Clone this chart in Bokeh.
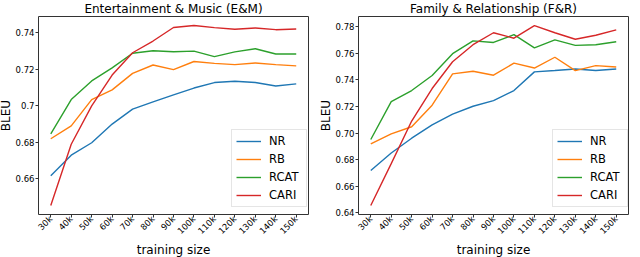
import math
from bokeh.plotting import figure
from bokeh.layouts import row
from bokeh.models import FixedTicker, CustomJSTickFormatter, PrintfTickFormatter, Legend, LegendItem
from bokeh.embed import file_html
from bokeh.resources import INLINE

sizes = [30, 40, 50, 60, 70, 80, 90, 100, 110, 120, 130, 140, 150]
size_labels = ["30k", "40k", "50k", "60k", "70k", "80k", "90k", "100k", "110k", "120k", "130k", "140k", "150k"]

em_nr = [0.6618, 0.6730, 0.6798, 0.6900, 0.6982, 0.7021, 0.7060, 0.7097, 0.7127, 0.7134, 0.7127, 0.7108, 0.7120]
em_rb = [0.6820, 0.6890, 0.7034, 0.7087, 0.7177, 0.7223, 0.7198, 0.7242, 0.7232, 0.7225, 0.7234, 0.7225, 0.7218]
em_rcat = [0.6847, 0.7034, 0.7136, 0.7207, 0.7287, 0.7301, 0.7295, 0.7299, 0.7269, 0.7295, 0.7312, 0.7283, 0.7283]
em_cari = [0.6455, 0.6790, 0.7000, 0.7168, 0.7290, 0.7354, 0.7428, 0.7439, 0.7427, 0.7418, 0.7425, 0.7416, 0.7420]

fr_nr = [0.6718, 0.6850, 0.6961, 0.7061, 0.7142, 0.7201, 0.7243, 0.7319, 0.7459, 0.7469, 0.7481, 0.7469, 0.7481]
fr_rb = [0.6919, 0.6993, 0.7047, 0.7209, 0.7444, 0.7464, 0.7434, 0.7525, 0.7488, 0.7569, 0.7469, 0.7506, 0.7496]
fr_rcat = [0.6951, 0.7236, 0.7319, 0.7432, 0.7596, 0.7692, 0.7680, 0.7739, 0.7640, 0.7699, 0.7658, 0.7663, 0.7685]
fr_cari = [0.6456, 0.6770, 0.7090, 0.7334, 0.7535, 0.7663, 0.7753, 0.7712, 0.7807, 0.7753, 0.7704, 0.7734, 0.7775]

series_names = ["NR", "RB", "RCAT", "CARI"]
colors = ["#1f77b4", "#ff7f0e", "#2ca02c", "#d62728"]

FONT = "DejaVu Sans"


def make_panel(title, data, y_range, y_ticks, y_fmt, width, border_left, border_right, legend_x):
    p = figure(width=width, height=265, x_range=(24, 156), y_range=y_range,
               output_backend="svg", toolbar_location=None,
               min_border_left=border_left, min_border_right=border_right,
               min_border_top=22, min_border_bottom=40)
    p.title.text = title
    p.title.align = "center"
    p.title.text_font = FONT
    p.title.text_font_size = "12px"
    p.title.text_font_style = "normal"
    p.title.text_color = "#000000"
    p.title.standoff = 1
    p.title.offset = 0
    p.grid.visible = False
    p.outline_line_color = "#333333"
    p.outline_line_width = 1
    p.background_fill_color = "white"
    p.border_fill_color = "white"

    for ax in (p.xaxis[0], p.yaxis[0]):
        ax.axis_line_color = None
        ax.major_tick_line_color = "#333333"
        ax.major_tick_out = 3
        ax.major_tick_in = 0
        ax.minor_tick_line_color = None
        ax.major_label_text_font = FONT
        ax.major_label_text_font_size = "8.5px"
        ax.major_label_text_color = "#000000"
        ax.axis_label_text_font = FONT
        ax.axis_label_text_font_size = "12px"
        ax.axis_label_text_font_style = "normal"
        ax.axis_label_text_color = "#000000"

    p.xaxis.ticker = FixedTicker(ticks=sizes)
    p.xaxis.major_label_overrides = {s: l for s, l in zip(sizes, size_labels)}
    p.xaxis.major_label_orientation = math.pi / 4
    p.xaxis.major_label_standoff = 0
    p.xaxis.axis_label = "training size"
    p.xaxis.axis_label_standoff = 0

    p.yaxis.ticker = FixedTicker(ticks=y_ticks)
    p.yaxis.formatter = y_fmt
    p.yaxis.major_label_standoff = 1
    p.yaxis.axis_label = "BLEU"
    p.yaxis.axis_label_standoff = 0

    items = []
    for name, vals, c in zip(series_names, data, colors):
        r = p.line(sizes, vals, line_color=c, line_width=1.4)
        items.append(LegendItem(label=name, renderers=[r]))

    leg = Legend(items=items, location=(legend_x, 7))
    leg.label_text_font = FONT
    leg.label_text_font_size = "11.5px"
    leg.label_text_color = "#000000"
    leg.glyph_width = 25
    leg.glyph_height = 14
    leg.label_height = 14
    leg.label_width = 33
    leg.label_standoff = 8
    leg.spacing = 4
    leg.padding = 4
    leg.margin = 0
    leg.border_line_color = "#cccccc"
    leg.border_line_width = 1
    leg.background_fill_color = "white"
    leg.background_fill_alpha = 0.8
    p.add_layout(leg, "center")
    return p


fmt_left = CustomJSTickFormatter(code="return String(Math.round(tick*100)/100);")
p1 = make_panel("Entertainment & Music (E&M)", [em_nr, em_rb, em_rcat, em_cari],
                (0.6406, 0.7488), [0.66, 0.68, 0.70, 0.72, 0.74], fmt_left, 320, 38, 7, 193)
p2 = make_panel("Family & Relationship (F&R)", [fr_nr, fr_rb, fr_rcat, fr_cari],
                (0.6388, 0.7875), [0.64, 0.66, 0.68, 0.70, 0.72, 0.74, 0.76, 0.78],
                PrintfTickFormatter(format="%.2f"), 317, 40, 4, 194)

layout = row(p1, p2, margin=(-6, 0, 0, -5))
open("out.html", "w").write(file_html(layout, INLINE))
